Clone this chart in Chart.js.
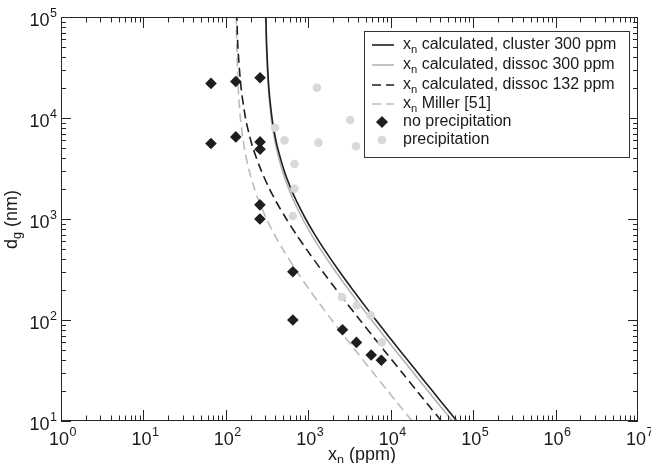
<!DOCTYPE html>
<html>
<head>
<meta charset="utf-8">
<script src="https://cdn.jsdelivr.net/npm/chart.js@4.4.0/dist/chart.umd.min.js"></script>
<style>
  html, body { margin: 0; padding: 0; background: #fff; }
</style>
</head>
<body>
<canvas id="chart" width="651" height="463"></canvas>
<script>
// particle size (nm) at which the curves were read
const dCurve = [10, 15, 20, 30, 50, 70, 100, 150, 200, 300, 500, 700, 1000, 1500, 2000, 3000, 5000, 7000, 10000, 20000, 50000, 100000];
const xCluster300 = [63300, 42300, 31800, 21300, 12900, 9300, 6600, 4500, 3450, 2400, 1560, 1200, 930, 720, 615, 510, 426, 390, 363, 332, 313, 306];
const xDissoc300 = [55800, 37300, 28050, 18800, 11400, 8230, 5850, 4000, 3080, 2150, 1410, 1090, 855, 670, 578, 485, 411, 379, 355, 328, 311, 306];
const xDissoc132 = [41100, 27470, 20630, 13800, 8330, 5990, 4230, 2870, 2180, 1500, 952, 718, 542, 405, 337, 269, 214, 191, 173, 153, 140, 136];
const xMiller = [18130, 12130, 9130, 6130, 3730, 2700, 1930, 1330, 1030, 732, 492, 389, 312, 252, 222, 192, 168, 158, 150, 141, 136, 134];

const noPrecipX = [66, 132, 260, 66, 132, 260, 260, 259, 259, 650, 650, 2600, 3840, 5800, 7700];
const noPrecipY = [22000, 23000, 25000, 5600, 6500, 5800, 4900, 1380, 1000, 300, 100, 80, 60, 45, 40];
const precipX = [1270, 395, 515, 1330, 3220, 3800, 680, 680, 650, 2570, 3880, 5730, 7780];
const precipY = [20000, 8000, 6000, 5700, 9550, 5250, 3500, 2000, 1070, 168, 140, 111, 60];

const xTickExp = [0, 1, 2, 3, 4, 5, 6, 7];
const yTickExp = [1, 2, 3, 4, 5];

const legendLabels = [
  ["x", "n", " calculated, cluster 300 ppm"],
  ["x", "n", " calculated, dissoc 300 ppm"],
  ["x", "n", " calculated, dissoc 132 ppm"],
  ["x", "n", " Miller [51]"],
  ["no precipitation", "", ""],
  ["precipitation", "", ""],
];

const FONT = '"Liberation Sans", Arial, Helvetica, sans-serif';
const BLACK = "#1e1e1e";
const GREY_LINE = "#b4b4b4";
const GREY_DASH = "#bcbcbc";
const GREY_DOT = "#d9d9d9";
const TICK_SIZE = 18;
const SUP_SIZE = 12.5;

const pairs = (xs, ys) => xs.map((v, i) => ({ x: v, y: ys[i] }));

// text with a subscript after the first part
function drawSubText(ctx, x, y, main, sub, rest, size) {
  ctx.textAlign = "left";
  ctx.textBaseline = "middle";
  ctx.font = `${size}px ${FONT}`;
  ctx.fillText(main, x, y);
  x += ctx.measureText(main).width;
  if (sub) {
    ctx.font = `${size * 0.7}px ${FONT}`;
    ctx.fillText(sub, x, y + size * 0.3);
    x += ctx.measureText(sub).width;
  }
  ctx.font = `${size}px ${FONT}`;
  ctx.fillText(rest, x, y);
}

function powWidth(ctx, exp) {
  ctx.font = `${TICK_SIZE}px ${FONT}`;
  const b = ctx.measureText("10").width;
  ctx.font = `${SUP_SIZE}px ${FONT}`;
  return [b, ctx.measureText(String(exp)).width];
}

function drawPow(ctx, x, y, exp) {
  ctx.textAlign = "left";
  ctx.textBaseline = "middle";
  ctx.font = `${TICK_SIZE}px ${FONT}`;
  ctx.fillText("10", x, y);
  const b = ctx.measureText("10").width;
  ctx.font = `${SUP_SIZE}px ${FONT}`;
  ctx.fillText(String(exp), x + b + 0.5, y - 7);
}

const axesPlugin = {
  id: "matlabAxes",
  afterDraw(chart) {
    const { ctx, chartArea: a, scales } = chart;
    const sx = scales.x, sy = scales.y;
    ctx.save();
    ctx.strokeStyle = "#262626";
    ctx.fillStyle = "#262626";
    ctx.lineWidth = 1;

    // inward ticks, all four sides
    ctx.beginPath();
    for (let e = 0; e < 7; e++) {
      for (let m = 1; m <= 9; m++) {
        const px = Math.round(sx.getPixelForValue(m * Math.pow(10, e))) + 0.5;
        const len = m === 1 ? 11 : 5.5;
        ctx.moveTo(px, a.bottom); ctx.lineTo(px, a.bottom - len);
        ctx.moveTo(px, a.top); ctx.lineTo(px, a.top + len);
      }
    }
    for (let e = 1; e < 5; e++) {
      for (let m = 1; m <= 9; m++) {
        const py = Math.round(sy.getPixelForValue(m * Math.pow(10, e))) + 0.5;
        const len = m === 1 ? 10 : 5;
        ctx.moveTo(a.left, py); ctx.lineTo(a.left + len, py);
        ctx.moveTo(a.right, py); ctx.lineTo(a.right - len, py);
      }
    }
    ctx.stroke();
    ctx.strokeRect(a.left + 0.5, a.top + 0.5, a.right - a.left - 1, a.bottom - a.top - 1);

    // tick labels
    ctx.fillStyle = "#1a1a1a";
    xTickExp.forEach((e) => {
      const px = sx.getPixelForValue(Math.pow(10, e));
      const [b] = powWidth(ctx, e);
      drawPow(ctx, px - b / 2 - 2, 440, e);
    });
    yTickExp.forEach((e) => {
      const py = sy.getPixelForValue(Math.pow(10, e));
      const [b, s] = powWidth(ctx, e);
      drawPow(ctx, a.left - 4 - s - 0.5 - b, py + 4, e);
    });

    // axis titles
    drawSubText(ctx, 328, 455, "x", "n", " (ppm)", TICK_SIZE);
    ctx.save();
    ctx.translate(12, 219);
    ctx.rotate(-Math.PI / 2);
    ctx.font = `${TICK_SIZE}px ${FONT}`;
    const tw = ctx.measureText("d (nm)").width + 8;
    drawSubText(ctx, -tw / 2, 0, "d", "g", " (nm)", TICK_SIZE);
    ctx.restore();

    // legend
    const lx = 364, ly = 31, lw = 265, lh = 126;
    ctx.fillStyle = "#fff";
    ctx.fillRect(lx, ly, lw, lh);
    ctx.strokeStyle = "#333";
    ctx.strokeRect(lx + 0.5, ly + 0.5, lw, lh);
    const rows = [45, 65, 85, 104, 122, 140];
    const ds = chart.data.datasets;
    const legendOrder = [2, 3, 4, 5, 0, 1];
    legendOrder.forEach((di, i) => {
      const d = ds[di];
      const y = rows[i];
      if (d.showLine) {
        ctx.save();
        ctx.strokeStyle = d.borderColor;
        ctx.lineWidth = d.borderWidth;
        ctx.setLineDash(d.borderDash || []);
        ctx.beginPath();
        ctx.moveTo(372, y); ctx.lineTo(394, y);
        ctx.stroke();
        ctx.restore();
      } else {
        ctx.save();
        ctx.fillStyle = d.backgroundColor;
        Chart.helpers.drawPoint(ctx, {
          pointStyle: d.pointStyle, radius: d.pointRadius, borderWidth: 0,
        }, 382, y);
        ctx.fill();
        ctx.restore();
      }
      ctx.fillStyle = "#1a1a1a";
      const [m, s, r] = legendLabels[i];
      drawSubText(ctx, 403, y, m, s, r, 16);
    });
    ctx.restore();
  },
};

new Chart(document.getElementById("chart"), {
  type: "scatter",
  data: {
    datasets: [
      {
        label: "no precipitation",
        data: pairs(noPrecipX, noPrecipY),
        pointStyle: "rectRot",
        pointRadius: 5.8,
        backgroundColor: BLACK,
        borderWidth: 0,
        showLine: false,
      },
      {
        label: "precipitation",
        data: pairs(precipX, precipY),
        pointStyle: "circle",
        pointRadius: 4.3,
        backgroundColor: GREY_DOT,
        borderWidth: 0,
        showLine: false,
      },
      {
        label: "cluster 300",
        data: pairs(xCluster300, dCurve),
        showLine: true, pointRadius: 0,
        borderColor: BLACK, borderWidth: 1.6, tension: 0.3,
      },
      {
        label: "dissoc 300",
        data: pairs(xDissoc300, dCurve),
        showLine: true, pointRadius: 0,
        borderColor: GREY_LINE, borderWidth: 1.6, tension: 0.3,
      },
      {
        label: "dissoc 132",
        data: pairs(xDissoc132, dCurve),
        showLine: true, pointRadius: 0,
        borderColor: BLACK, borderWidth: 1.6, borderDash: [9, 5], tension: 0.3,
      },
      {
        label: "Miller",
        data: pairs(xMiller, dCurve),
        showLine: true, pointRadius: 0,
        borderColor: GREY_DASH, borderWidth: 1.6, borderDash: [9, 5], tension: 0.3,
      },
    ],
  },
  options: {
    responsive: false,
    animation: false,
    layout: { padding: { left: 61, top: 17, right: 13, bottom: 42 } },
    scales: {
      x: { type: "logarithmic", min: 1, max: 1e7, display: false },
      y: { type: "logarithmic", min: 10, max: 1e5, display: false },
    },
    plugins: {
      legend: { display: false },
      tooltip: { enabled: false },
    },
  },
  plugins: [axesPlugin],
});
</script>
</body>
</html>
